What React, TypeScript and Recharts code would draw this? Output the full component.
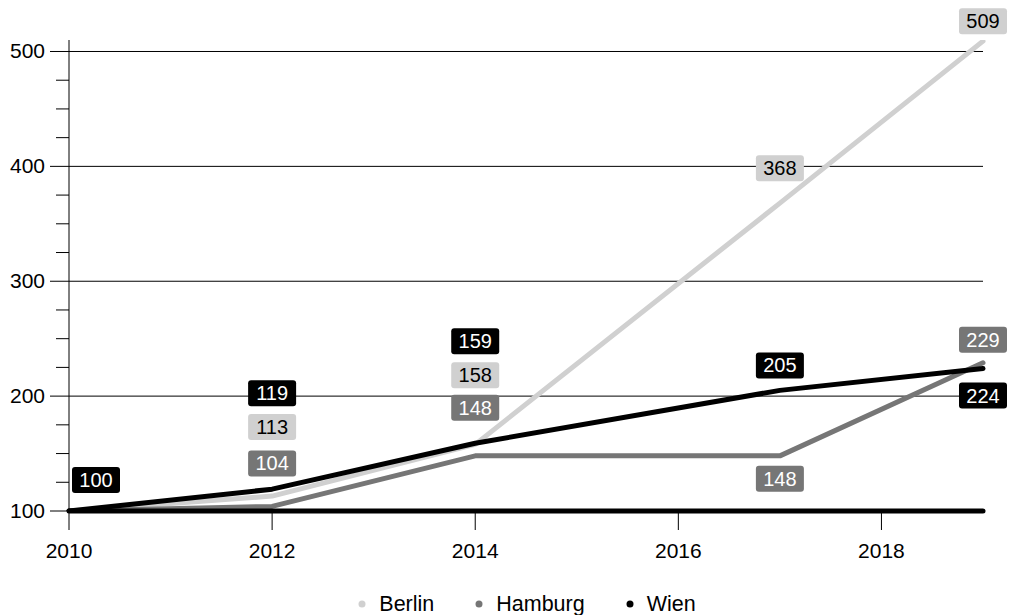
import React from "react";
import { LineChart, Line, XAxis, YAxis, ReferenceLine, Legend, LabelList } from "recharts";

const years = [2010, 2012, 2014, 2017, 2019];
const berlin = [100, 113, 158, 368, 509];
const hamburg = [100, 104, 148, 148, 229];
const wien = [100, 119, 159, 205, 224];
const xTicks = [2010, 2012, 2014, 2016, 2018];
const yTicks = [100, 125, 150, 175, 200, 225, 250, 275, 300, 325, 350, 375, 400, 425, 450, 475, 500];
const gridValues = [200, 300, 400, 500];

const seriesNames = ["Berlin", "Hamburg", "Wien"];

// label placement offsets (px) relative to each point; null = no label
const labelOffsets: Record<string, ([number, number] | null)[]> = {
  Berlin: [null, [0, -69], [0, -69], [0, -35], [0, -20]],
  Hamburg: [null, [0, -43], [0, -48], [0, 23], [0, -23]],
  Wien: [[27, -31], [0, -96], [0, -102], [0, -25], [0, 27]],
};

const colors: Record<string, string> = { Berlin: "#d0d0d0", Hamburg: "#767676", Wien: "#000000" };
const labelText: Record<string, string> = { Berlin: "#000000", Hamburg: "#ffffff", Wien: "#ffffff" };

const data = years.map((y, i) => ({ year: y, Berlin: berlin[i], Hamburg: hamburg[i], Wien: wien[i] }));

const W = 1014;
const H = 615;
const PLOT_LEFT = 69;
const PLOT_BOTTOM = 511;
const FONT = "'Liberation Sans', Arial, sans-serif";

const YTick = (props: any) => {
  const { y, payload } = props;
  const v = payload.value;
  const major = v % 100 === 0;
  return (
    <g>
      <line x1={major ? PLOT_LEFT - 19 : PLOT_LEFT - 13} x2={PLOT_LEFT} y1={y} y2={y} stroke="#000" strokeWidth={1} />
      {major && (
        <text x={45} y={y + 7} textAnchor="end" fontSize={21} fill="#000" fontFamily={FONT}>
          {v}
        </text>
      )}
    </g>
  );
};

const XTick = (props: any) => {
  const { x, payload } = props;
  return (
    <g>
      <line x1={x} x2={x} y1={PLOT_BOTTOM} y2={PLOT_BOTTOM + 19} stroke="#000" strokeWidth={1} />
      <text x={x} y={558} textAnchor="middle" fontSize={21} fill="#000" fontFamily={FONT}>
        {payload.value}
      </text>
    </g>
  );
};

const makeLabel = (name: string) => (p: any) => {
  const { x, y, value, index } = p;
  const off = labelOffsets[name][index];
  if (!off) return null;
  const cx = x + off[0];
  const cy = y + off[1];
  const w = 48;
  const h = 26;
  return (
    <g key={`${name}-${index}`}>
      <rect x={cx - w / 2} y={cy - h / 2} width={w} height={h} rx={3} ry={3} fill={colors[name]} />
      <text x={cx} y={cy + 7} textAnchor="middle" fontSize={20} fill={labelText[name]} fontFamily={FONT}>
        {value}
      </text>
    </g>
  );
};

const LegendContent = () => (
  <div
    style={{
      display: "flex",
      justifyContent: "center",
      alignItems: "center",
      width: W,
      paddingLeft: 40,
      boxSizing: "border-box",
      height: 30,
      paddingTop: 8,
      fontFamily: FONT,
      fontSize: 21.5,
      color: "#000",
    }}
  >
    {seriesNames.map((n, i) => (
      <div key={n} style={{ display: "flex", alignItems: "center", marginLeft: i === 0 ? 0 : 41 }}>
        <svg width={8} height={8} style={{ marginRight: 13 }}>
          <circle cx={4} cy={4} r={3.5} fill={colors[n]} />
        </svg>
        <span>{n}</span>
      </div>
    ))}
  </div>
);

export default function App() {
  return (
    <div style={{ width: W, height: H, background: "#fff" }}>
      <style>{`body{margin:0;background:#fff}`}</style>
      <LineChart width={W} height={H} data={data} margin={{ top: 40, right: 31, bottom: 0, left: 0 }} style={{ fontFamily: FONT }}>
        <XAxis
          dataKey="year"
          type="number"
          domain={[2010, 2019]}
          ticks={xTicks}
          interval={0}
          axisLine={false}
          tickLine={false}
          height={74}
          tick={<XTick />}
        />
        <YAxis
          type="number"
          domain={[100, 510]}
          ticks={yTicks}
          interval={0}
          width={69}
          axisLine={{ stroke: "#000", strokeWidth: 1 }}
          tickLine={false}
          tick={<YTick />}
          allowDataOverflow
        />
        {gridValues.map((v) => (
          <ReferenceLine key={v} y={v} stroke="#000" strokeWidth={1} />
        ))}
        {seriesNames.map((n) => (
          <Line
            key={n}
            type="linear"
            dataKey={n}
            stroke={colors[n]}
            strokeWidth={5}
            strokeLinecap="round"
            strokeLinejoin="round"
            dot={false}
            activeDot={false}
            isAnimationActive={false}
          >
            <LabelList dataKey={n} content={makeLabel(n)} />
          </Line>
        ))}
        <ReferenceLine y={100} stroke="#000" strokeWidth={5} strokeLinecap="round" />
        <Legend verticalAlign="bottom" height={30} wrapperStyle={{ left: 0, width: W }} content={<LegendContent />} />
      </LineChart>
    </div>
  );
}
